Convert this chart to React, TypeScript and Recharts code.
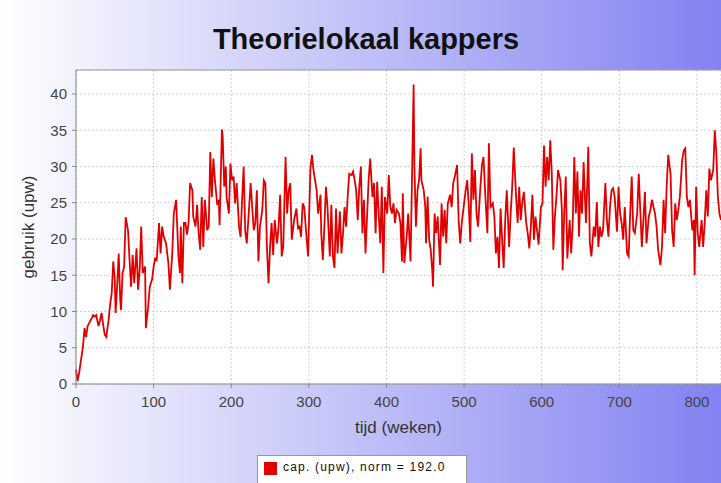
import React from 'react'
import { LineChart, Line, XAxis, YAxis, CartesianGrid, ReferenceLine } from 'recharts'

// weken (x) en gebruik in uren per week (y)
const weeks = [
    0, 2, 4, 9, 11, 13, 15, 18, 20, 22, 24, 26, 29, 31, 33, 35, 37, 39, 42, 44, 46, 48, 50, 51, 53, 55, 57, 58, 60, 62,
    64, 67, 69, 71, 73, 75, 78, 80, 82, 84, 86, 89, 90, 93, 95, 98, 100, 102, 104, 107, 109, 111, 113, 116, 119, 121,
    124, 126, 129, 132, 134, 135, 137, 139,
    141, 143, 145, 147, 150, 151, 154, 156, 158, 160, 162, 164, 166, 169, 171, 173, 175, 177, 179, 182, 184, 185, 188,
    189, 191, 193, 194, 197, 199, 201, 203, 205, 207, 210, 212, 214, 216, 218, 220, 222, 225, 227, 229, 231, 233, 235,
    237, 240, 242, 244, 246, 248, 250, 252, 254, 256, 259, 261, 263, 265, 267, 270, 272, 274, 276, 278, 281,
    284, 286, 288, 290, 292, 294, 297, 299, 302, 304, 306, 308, 310, 312, 315, 316, 318, 320, 322, 324, 327, 329, 331,
    333, 335, 337, 340, 342, 344, 346, 348, 350, 352, 355, 357, 359, 361, 363, 365, 367, 369, 371, 373, 375, 377, 379,
    382, 384, 386, 388, 390, 392, 394, 396, 398, 401, 403, 405, 407, 409, 411, 413, 416, 418, 420, 421, 423,
    426, 428, 431, 433, 435, 436, 438, 440, 442, 444, 445, 448, 450, 451, 453, 455, 457, 459, 460, 462, 464, 466, 469,
    471, 473, 475, 477, 479, 482, 484, 486, 488, 491, 493, 495, 497, 500, 502, 504, 506, 508, 510, 512, 514, 516, 518,
    521, 523, 525, 527, 530, 532, 534, 537, 539, 541, 543, 545, 547, 549, 551, 553, 555, 558, 560, 562, 564,
    567, 569, 571, 573, 575, 577, 580, 582, 584, 586, 588, 590, 592, 594, 596, 599, 601, 603, 605, 607, 609, 611, 613,
    615, 617, 619, 621, 624, 626, 627, 629, 631, 633, 636, 638, 640, 642, 644, 646, 648, 650, 652, 654, 657, 659, 660,
    662, 664, 667, 669, 671, 673, 675, 677, 679, 682, 684, 686, 688, 690, 692, 694, 697, 699, 701, 703, 705, 707,
    710, 712, 714, 716, 718, 720, 723, 725, 727, 729, 731, 733, 735, 738, 740, 742, 744, 746, 748, 750, 753, 755, 757,
    759, 761, 763, 766, 768, 770, 772, 774, 776, 778, 781, 783, 785, 787, 789, 791, 794, 796, 797, 799, 801, 803, 806,
    808, 810, 812, 814, 816, 818, 821, 823, 825, 827, 829, 831
]

const usage = [
    2, 0.4, 1.5, 5.2, 7.7, 6.5, 8, 8.6, 9, 9.5, 9.3, 9.5, 8, 8.8, 9.8, 8.2, 6.8, 6.5, 8.8, 11, 12.5, 16.9, 14.4, 9.8, 13.4,
    18, 11.6, 10.2, 15.3, 16.2, 23, 21.2, 17.1, 13.4, 17.8, 13.9, 18.7, 13, 15.7, 21.7, 15.3, 16.2, 7.7, 10.7, 13.4, 14.4,
    16.2, 17.3, 17.1, 22.2, 18, 21.7, 20.3, 19.4, 16.7, 13, 18, 23.5, 25.4, 17.6, 15.3, 21.7, 13.9, 22.2,
    22.2, 20.6, 22.2, 27.7, 26.7, 23.1, 21.7, 24.7, 20.8, 18.5, 25.8, 18.9, 25.4, 21.2, 21.7, 32, 25.8, 31.1, 28.1, 24.7,
    25.4, 21.9, 35.1, 34.1, 27.2, 30, 25.8, 23.5, 30.4, 28.1, 28.6, 24.9, 27.7, 21.7, 20.3, 25.4, 30, 21.2, 19.4, 22.6,
    27.7, 24.4, 21.2, 22.2, 26.7, 16.9, 21.7, 24, 28.1, 27.7, 18.9, 13.9, 18.9, 22.2, 17.8, 22.6, 19.4, 21.7, 26.1, 17.6,
    18.9, 31.3, 23.5, 26.7, 27.7, 19.9, 22.6,
    24.2, 21.5, 21.7, 20.3, 24.9, 24.4, 20.3, 17.6, 29.7, 31.6, 29.5, 28.1, 26.7, 23.5, 26.1, 20.8, 17.1, 21.7, 27.2, 24.4,
    17.6, 24.7, 17.6, 16, 24.2, 18, 23.8, 18, 20.8, 24.4, 21.7, 25.8, 29, 28.8, 29.3, 28.1, 26.7, 22.6, 27.2, 30, 20.8,
    25.4, 18, 23.1, 28.1, 31.1, 25.8, 27.7, 20.8, 27.9, 23.5, 19.4, 27.2, 15.3, 25.8, 23.5, 28.8, 24.4, 23.5, 24.9, 22.2,
    24, 23.5, 22.2, 16.9, 26.3, 16.7,
    20.3, 23.5, 16.9, 29, 41.3, 30, 21.7, 26.7, 28.1, 32.5, 28.1, 26.7, 24.4, 19.4, 25.8, 19.9, 18.5, 15.7, 13.4, 23.5,
    20.8, 23.1, 16.4, 24.9, 20.3, 24, 19.4, 24.9, 26.1, 24.4, 27.7, 28.6, 30.2, 22.6, 19.4, 22.2, 24.9, 26.7, 28.1, 24.7,
    19.6, 31.8, 25.4, 29.5, 23.5, 21.7, 27.2, 30.2, 31.3, 26.7, 20.8, 33.2, 24.4, 24.9, 23.1, 18, 20.3, 16, 24.2, 19.9,
    16, 22.6, 26.7, 18.9, 23.5, 27.2, 32.6,
    25.8, 22.2, 27.2, 22.6, 25.1, 26.5, 22.2, 20.8, 18.7, 21.7, 26.1, 19.9, 23.1, 21.2, 19.2, 24.4, 24.9, 32.9, 27.2, 31.3,
    28.1, 33.6, 29, 18.5, 23.1, 25.8, 29.5, 28.1, 24, 15.7, 23.5, 28.6, 17.3, 22.6, 18, 22.2, 31.3, 23.5, 29.3, 20.3,
    26.7, 23.5, 30.6, 22.2, 28.6, 32.7, 19.4, 17.6, 21.7, 20.3, 25.1, 18.9, 21.7, 20.3, 21.2, 27.7, 22.6, 20.3, 24.4, 26.7,
    27, 25.8, 21, 27.2, 23.5, 22.2, 19.9, 24.4,
    18, 17.6, 23.5, 28.6, 21.2, 20.8, 23.5, 29, 24, 18.9, 22.6, 26.5, 19.4, 23.1, 24, 25.4, 24.4, 23.5, 21.7, 18.5, 16.4,
    18.9, 25.4, 20.8, 27.2, 31.6, 29, 21.2, 18.9, 24.9, 22.6, 24, 25.8, 30.9, 32.2, 32.5, 25.8, 24.4, 25.4, 21.2, 22.6,
    15, 27.2, 20.8, 18.9, 22.6, 18.9, 22.2, 26.7, 23.1, 29.7, 28.1, 29.5, 35, 31.8, 25.8, 23.5, 22.6
]

const xTicks = [0, 100, 200, 300, 400, 500, 600, 700, 800]
const yTicks = [0, 5, 10, 15, 20, 25, 30, 35, 40]

const data = weeks.map((w, i) => ({ week: w, gebruik: usage[i] }))

const font = '"Liberation Sans", Arial, sans-serif'
const tickStyle = { fontSize: 15, fill: '#444', fontFamily: font }

const App: React.FC = () => {
    return (
        <div
            style={{
                position: 'absolute',
                top: 0,
                left: 0,
                width: 721,
                height: 483,
                overflow: 'hidden',
                background: 'linear-gradient(to right, #ffffff, #8282f2)',
                fontFamily: font
            }}
        >
            <div
                style={{
                    position: 'absolute',
                    top: 24,
                    left: 0,
                    width: 732,
                    textAlign: 'center',
                    fontSize: 29,
                    lineHeight: '30px',
                    fontWeight: 'bold',
                    color: '#111'
                }}
            >
                Theorielokaal kappers
            </div>
            <LineChart width={721} height={483} data={data} margin={{ top: 70, right: 0, bottom: 0, left: 0 }}>
                <CartesianGrid fill="#fff" stroke="#cfcfcf" strokeDasharray="2 2" />
                <XAxis
                    dataKey="week"
                    type="number"
                    domain={[0, 831]}
                    ticks={xTicks}
                    height={99}
                    stroke="#888"
                    tickSize={4}
                    tickMargin={8}
                    tick={tickStyle}
                    label={{ value: 'tijd (weken)', position: 'insideTop', offset: 37, style: { fontSize: 17, fill: '#333', fontFamily: font } }}
                />
                <YAxis
                    type="number"
                    domain={[0, 43.3]}
                    ticks={yTicks}
                    width={76}
                    stroke="#888"
                    tickSize={4}
                    tickMargin={5}
                    tick={tickStyle}
                    label={{ value: 'gebruik (upw)', angle: -90, position: 'insideLeft', offset: 28, style: { fontSize: 17, fill: '#333', fontFamily: font, textAnchor: 'middle' } }}
                />
                <ReferenceLine y={43.3} stroke="#999" />
                <Line
                    type="linear"
                    dataKey="gebruik"
                    stroke="#e00000"
                    strokeWidth={1.8}
                    dot={false}
                    isAnimationActive={false}
                />
            </LineChart>
            <div
                style={{
                    position: 'absolute',
                    left: 257,
                    top: 455,
                    width: 210,
                    height: 30,
                    border: '1px solid #999',
                    background: '#fff',
                    display: 'flex',
                    alignItems: 'flex-start',
                    paddingTop: 4,
                    boxSizing: 'border-box'
                }}
            >
                <span style={{ display: 'inline-block', width: 13, height: 13, background: '#e00000', margin: '2px 6px 0 6px' }} />
                <span style={{ fontSize: 12, letterSpacing: 1.2, color: '#111' }}>cap. (upw), norm = 192.0</span>
            </div>
        </div>
    )
}

export default App
